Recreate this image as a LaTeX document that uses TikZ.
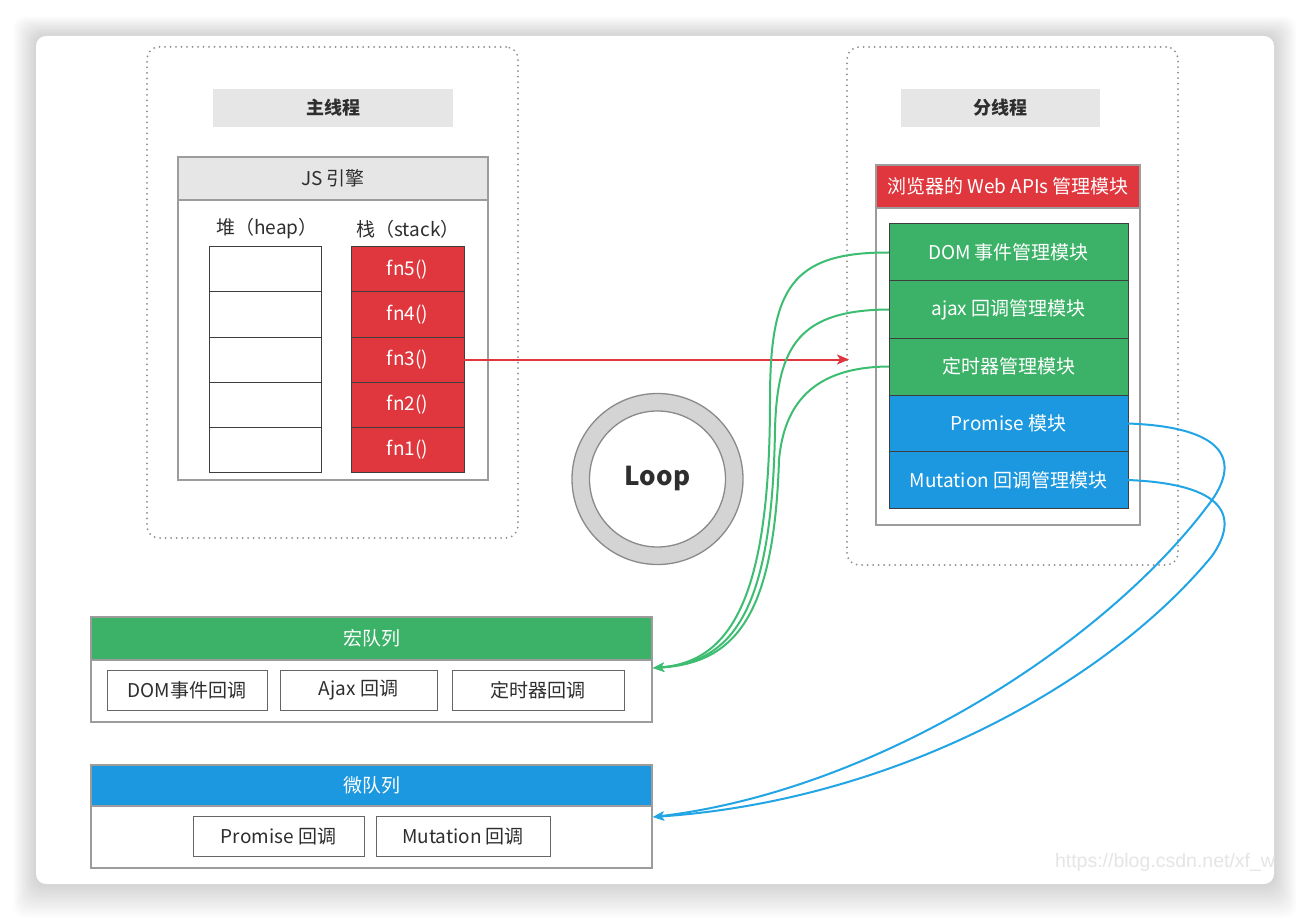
\documentclass[tikz,border=0pt]{standalone}
\usepackage{fontspec}
\setmainfont{Noto Sans CJK SC}
\newfontfamily\wmfont{Liberation Sans}
\usetikzlibrary{arrows.meta}
\definecolor{cRed}{HTML}{DF373D}
\definecolor{cGreen}{HTML}{3CB268}
\definecolor{cBlue}{HTML}{1B98E0}
\definecolor{cGrayFill}{HTML}{E6E6E6}
\definecolor{cBorder}{HTML}{9C9C9C}
\definecolor{cDark}{HTML}{3E3E3E}
\definecolor{cText}{HTML}{2E2E2E}
\definecolor{cDot}{HTML}{8C8C8C}
\definecolor{cLineGreen}{HTML}{3DBD72}
\definecolor{cLineBlue}{HTML}{22A5E4}
\definecolor{cRing}{HTML}{D4D4D4}
\definecolor{cRingLine}{HTML}{8A8A8A}
\begin{document}
\begin{tikzpicture}[x=1pt,y=-1pt,
  every node/.style={inner sep=0pt, outer sep=0pt, text=cText, font=\fontsize{19}{22}\selectfont},
  dotbox/.style={draw=cDot, line width=2pt, dash pattern=on 0pt off 5.5pt, line cap=round, rounded corners=12pt, rectangle},
  graylabel/.style={fill=cGrayFill, rectangle, font=\fontsize{18}{20}\selectfont\bfseries},
  outerbox/.style={draw=cBorder, line width=1.3pt, fill=white, rectangle},
  grayhead/.style={draw=cBorder, line width=1.3pt, fill=cGrayFill, rectangle},
  heapcell/.style={draw=cDark, line width=1pt, fill=white, rectangle, minimum width=112pt, minimum height=45pt},
  stackcell/.style={draw=cDark, line width=1pt, fill=cRed, rectangle, minimum width=113pt, minimum height=45pt, text=white},
  modgreen/.style={draw=cDark, line width=1pt, fill=cGreen, rectangle, minimum width=239pt, minimum height=57pt, text=white},
  modblue/.style={draw=cDark, line width=1pt, fill=cBlue, rectangle, minimum width=239pt, minimum height=57pt, text=white},
  qbox/.style={draw=cDark!80, line width=1pt, fill=white, rectangle, minimum height=40pt},
  gline/.style={draw=cLineGreen, line width=2pt, -{Stealth[length=11pt,width=9pt,inset=3pt]}},
  bline/.style={draw=cLineBlue, line width=2pt, -{Stealth[length=11pt,width=9pt,inset=3pt]}},
  rline/.style={draw=cRed, line width=2pt, -{Stealth[length=12pt,width=10pt,inset=3pt]}}
]
\useasboundingbox (0,0) rectangle (1310,920);
\fill[white] (0,0) rectangle (1310,920);
% card shadow
\foreach \i in {1,...,14}{
  \fill[black, opacity=0.011, rounded corners=12pt] (36-1.6*\i,36-1.4*\i) rectangle (1274+1.6*\i,884+2.4*\i);
}
\fill[white, rounded corners=10pt] (36,36) rectangle (1274,884);
\begin{scope}
\clip[rounded corners=10pt] (36,36) rectangle (1274,884);
\node[anchor=west, text=black!10, font=\wmfont\fontsize{19.5}{22}\selectfont] (wm) at (1055,862) {https://blog.csdn.net/xf\_wu};
\end{scope}

% ---------------- main thread
\node[dotbox, minimum width=371pt, minimum height=491pt] (mainT) at (332.5,292.5) {};
\node[graylabel, minimum width=240pt, minimum height=38pt] (mainLabel) at (333,108) {主线程};
\node[outerbox, minimum width=310pt, minimum height=323pt] (engine) at (333,318.5) {};
\node[grayhead, minimum width=310pt, minimum height=43pt] (engineHead) at (333,178.5) {JS 引擎};
\node (heapLabel) at (267,229) {堆（heap）};
\node (stackLabel) at (408,229) {栈（stack）};
\node[heapcell] (h1) at (265,269.5) {};
\node[heapcell] (h2) at (265,314.5) {};
\node[heapcell] (h3) at (265,359.5) {};
\node[heapcell] (h4) at (265,404.5) {};
\node[heapcell] (h5) at (265,449.5) {};
\node[stackcell] (s5) at (407.5,269.5) {fn5()};
\node[stackcell] (s4) at (407.5,314.5) {fn4()};
\node[stackcell] (s3) at (407.5,359.5) {fn3()};
\node[stackcell] (s2) at (407.5,404.5) {fn2()};
\node[stackcell] (s1) at (407.5,449.5) {fn1()};

% ---------------- sub thread
\node[dotbox, minimum width=331pt, minimum height=518pt] (subT) at (1012.5,306) {};
\node[graylabel, minimum width=199pt, minimum height=38pt] (subLabel) at (1000.5,108) {分线程};
\node[outerbox, minimum width=264pt, minimum height=360pt] (webapi) at (1008,345) {};
\node[draw=cBorder, line width=1.3pt, fill=cRed, rectangle, minimum width=264pt, minimum height=43pt, text=white] (webapiHead) at (1008,186.5) {浏览器的 Web APIs 管理模块};
\node[modgreen] (dom) at (1008.5,252.5) {DOM 事件管理模块};
\node[modgreen] (ajax) at (1008.5,309.5) {ajax 回调管理模块};
\node[modgreen] (timer) at (1008.5,366.5) {定时器管理模块};
\node[modblue] (prom) at (1008.5,423.5) {Promise 模块};
\node[modblue] (mut) at (1008.5,480) {Mutation 回调管理模块};

% ---------------- loop
\node[circle, draw=cRingLine, line width=1.3pt, fill=cRing, minimum size=171pt] (loopRing) at (657.5,479) {};
\node[circle, draw=cRingLine, line width=1.3pt, fill=white, minimum size=136pt, font=\fontsize{26}{28}\selectfont\bfseries] (loop) at (657.5,479) {Loop};

% ---------------- macro queue
\node[outerbox, minimum width=561pt, minimum height=105pt] (macro) at (371.5,669.5) {};
\node[draw=cBorder, line width=1.3pt, fill=cGreen, rectangle, minimum width=561pt, minimum height=43pt, text=white] (macroHead) at (371.5,638.5) {宏队列};
\node[qbox, minimum width=160pt] (qdom) at (187,690) {DOM事件回调};
\node[qbox, minimum width=157pt] (qajax) at (358.5,690) {Ajax 回调};
\node[qbox, minimum width=172pt] (qtimer) at (538,690) {定时器回调};

% ---------------- micro queue
\node[outerbox, minimum width=561pt, minimum height=103pt] (micro) at (371.5,816.5) {};
\node[draw=cBorder, line width=1.3pt, fill=cBlue, rectangle, minimum width=561pt, minimum height=41pt, text=white] (microHead) at (371.5,785.5) {微队列};
\node[qbox, minimum width=171pt] (qprom) at (278.5,836) {Promise 回调};
\node[qbox, minimum width=174pt] (qmut) at (463,836) {Mutation 回调};

% ---------------- connectors
\coordinate (redEnd) at (849,359.5);
\coordinate (macroIn) at (653,668);
\coordinate (microIn) at (653,817);
\draw[rline] (s3.east) -- (redEnd);

\draw[gline] (dom.west) .. controls (790,252) and (770,290) .. (770,400) .. controls (770,600) and (730,662) .. (macroIn);
\draw[gline] (ajax.west) .. controls (800,310) and (777,345) .. (775,430) .. controls (772,612) and (733,662) .. (macroIn);
\draw[gline] (timer.west) .. controls (812,367) and (784,405) .. (779,460) .. controls (774,615) and (736,663) .. (macroIn);

\draw[bline] (prom.east) .. controls (1225,427) and (1240,460) .. (1212,500) .. controls (1110,640) and (880,790) .. (microIn);
\draw[bline] (mut.east) .. controls (1225,484) and (1240,516) .. (1212,556) .. controls (1110,680) and (900,800) .. (microIn);
\end{tikzpicture}
\end{document}
